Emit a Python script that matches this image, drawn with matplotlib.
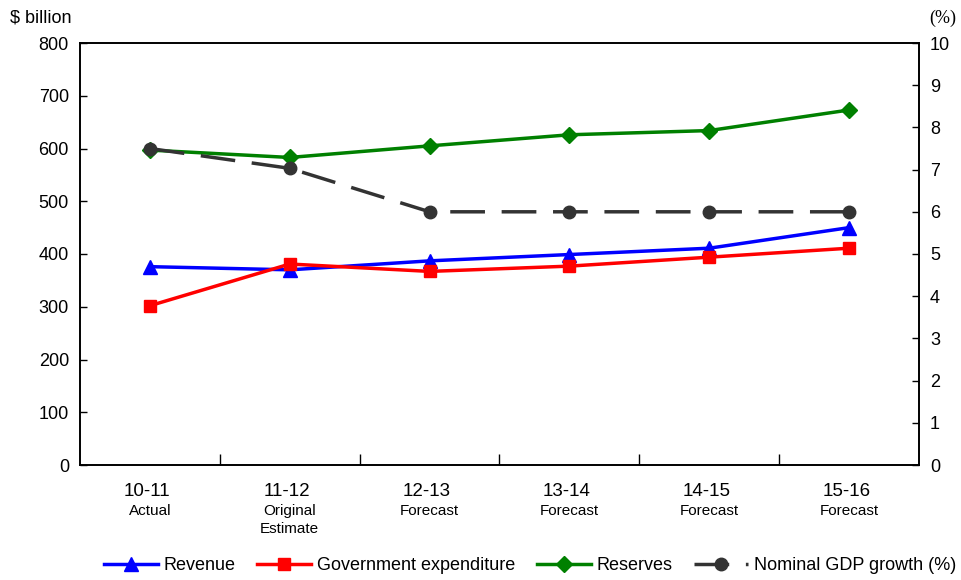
import matplotlib
matplotlib.use("Agg")
import matplotlib.pyplot as plt
import matplotlib.transforms as mtransforms

categories = ["10-11", "11-12", "12-13", "13-14", "14-15", "15-16"]
sublabels = ["Actual", "Original\nEstimate", "Forecast", "Forecast", "Forecast", "Forecast"]
revenue = [376, 370, 387, 399, 411, 450]
expenditure = [302, 381, 367, 377, 394, 411]
reserves = [597, 583, 605, 626, 634, 673]
gdp_growth = [7.5, 7.03, 6.0, 6.0, 6.0, 6.0]

left_ticks = [0, 100, 200, 300, 400, 500, 600, 700, 800]
right_ticks = list(range(0, 11))

plt.rcParams['font.family'] = ['Liberation Sans', 'DejaVu Sans']
narrow = ['Liberation Sans Narrow', 'Liberation Sans', 'DejaVu Sans']

fig = plt.figure(figsize=(9.62, 5.8), dpi=100)
ax = fig.add_axes([80/962, 1-465/580, (919-80)/962, (465-43)/580])
ax2 = ax.twinx()

x = list(range(len(categories)))
l1, = ax.plot(x, revenue, color='#0000FF', lw=2.5, marker='^', ms=10, label='Revenue')
l2, = ax.plot(x, expenditure, color='#FF0000', lw=2.5, marker='s', ms=9, label='Government expenditure')
l3, = ax.plot(x, reserves, color='#008000', lw=2.5, marker='D', ms=8, label='Reserves')
l4, = ax2.plot(x, gdp_growth, color='#333333', lw=2.5, marker='o', ms=9,
               dashes=(10, 4.8), label='Nominal GDP growth (%)')

ax.set_xlim(-0.5, len(categories) - 0.5)
ax.set_ylim(0, 800)
ax2.set_ylim(0, 10)
ax.set_yticks(left_ticks)
ax2.set_yticks(right_ticks)
ax.set_xticks([i + 0.5 for i in range(len(categories) - 1)])
ax.set_xticklabels([])
ax.tick_params(axis='x', direction='in', length=8, width=1, bottom=True, top=False)
ax.tick_params(axis='y', direction='in', length=5, width=1, labelsize=13, pad=8)
ax2.tick_params(axis='y', direction='in', length=5, width=1, labelsize=13, pad=8)
for a in (ax, ax2):
    for s in a.spines.values():
        s.set_linewidth(1.2)
        s.set_color('black')

trans = mtransforms.blended_transform_factory(ax.transData, fig.transFigure)
for i, (c, s) in enumerate(zip(categories, sublabels)):
    ax.text(i - 0.02, 1 - 491/580, c, transform=trans, ha='center', va='center',
            fontsize=13.5, family=narrow)
    ax.text(i, 1 - 504/580, s, transform=trans, ha='center', va='top',
            fontsize=11, family=narrow, linespacing=1.4)

fig.text(10/962, 1 - 18/580, "$ billion", ha='left', va='center', fontsize=13)
fig.text(943/962, 1 - 18/580, "(%)", ha='center', va='center', fontsize=13,
         family=['Liberation Serif', 'DejaVu Serif'])

fig.legend(handles=[l1, l2, l3, l4], loc='center', bbox_to_anchor=(530/962, 1 - 566/580),
           ncol=4, frameon=False, handlelength=3.0, handletextpad=0.3, columnspacing=1.2,
           prop={'family': narrow, 'size': 13})

fig.savefig("out.png", dpi=100)
